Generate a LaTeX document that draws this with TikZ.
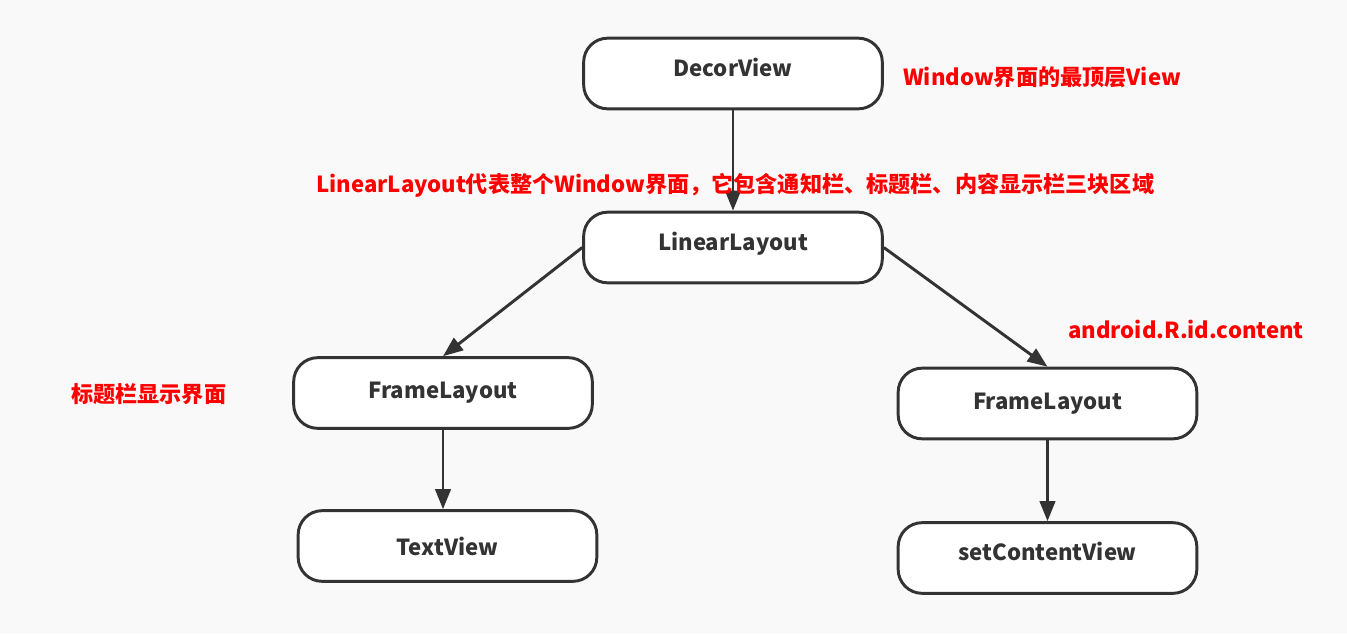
\documentclass[tikz,border=0pt]{standalone}
\usepackage{fontspec}
\setmainfont{Noto Sans CJK SC}
\usetikzlibrary{arrows.meta}
\definecolor{ink}{HTML}{333333}
\definecolor{note}{HTML}{FF0000}
\definecolor{paper}{HTML}{F9F9F9}
\begin{document}
\begin{tikzpicture}[x=0.75pt,y=-0.75pt,
    viewbox/.style={draw=ink,fill=white,line width=2.2pt,rounded corners=18pt,
      minimum width=224pt,minimum height=53pt,text=ink,
      font=\fontsize{16.6}{19}\selectfont\bfseries},
    lift/.style={text height=14pt,text depth=9.7pt},
    remark/.style={anchor=west,inner sep=0pt,text=note,
      font=\fontsize{16.6}{19}\selectfont\bfseries},
    link/.style={draw=ink,line width=2.2pt,-{Triangle[length=15pt,width=11.5pt]}}]
  \fill [paper] (0,0) rectangle (1347,633);
  \useasboundingbox (0,0) rectangle (1347,633);
  % tree of views
  \node [viewbox,lift] (decor) at (733,73.5) {DecorView};
  \node [viewbox,lift] (linear) at (733,247.5) {LinearLayout};
  \node [viewbox] (frameL) at (443,393) {FrameLayout};
  \node [viewbox] (text) at (447.5,546) {TextView};
  \node [viewbox] (frameR) at (1047.5,403.5) {FrameLayout};
  \node [viewbox,lift] (content) at (1047.5,558) {setContentView};
  \draw [link] (decor) -- (linear);
  \draw [link] (linear.west) -- (frameL.north);
  \draw [link] (linear.east) -- (frameR.north);
  \draw [link] (frameL.south) -- (frameL.south |- text.north);
  \draw [link] (frameR) -- (content);
  % notes
  \node [remark] (top) at (903,77) {Window界面的最顶层View};
  \node [remark] (whole) at (316,185) {LinearLayout代表整个Window界面，它包含通知栏、标题栏、内容显示栏三块区域};
  \node [remark] (id) at (1068,329) {android.R.id.content};
  \node [remark] (title) at (71,394) {标题栏显示界面};
\end{tikzpicture}
\end{document}
